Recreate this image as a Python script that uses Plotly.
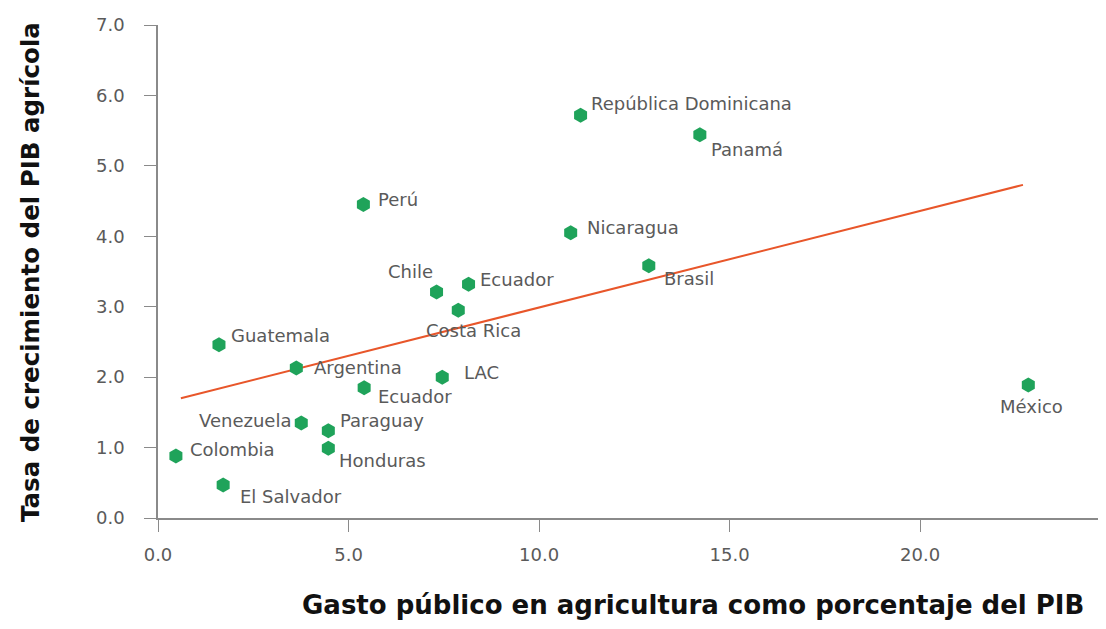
import plotly.graph_objects as go

# ---- data ----
countries = ["República Dominicana", "Panamá", "Perú", "Nicaragua", "Brasil", "Chile",
             "Ecuador", "Costa Rica", "Guatemala", "Argentina", "Ecuador", "LAC",
             "Venezuela", "Paraguay", "Honduras", "Colombia", "El Salvador", "México"]
gasto = [11.09, 14.22, 5.39, 10.83, 12.88, 7.31,
         8.15, 7.88, 1.60, 3.63, 5.41, 7.46,
         3.76, 4.47, 4.47, 0.47, 1.71, 22.84]
crecimiento = [5.72, 5.44, 4.45, 4.05, 3.58, 3.21,
               3.32, 2.95, 2.46, 2.13, 1.85, 2.00,
               1.35, 1.24, 0.99, 0.88, 0.47, 1.89]
trend_x = [0.60, 22.70]
trend_y = [1.70, 4.73]
x_ticks = [0, 5, 10, 15, 20]
x_tick_labels = ["0.0", "5.0", "10.0", "15.0", "20.0"]
y_ticks = [0, 1, 2, 3, 4, 5, 6, 7]
y_tick_labels = ["0.0", "1.0", "2.0", "3.0", "4.0", "5.0", "6.0", "7.0"]
x_title = "Gasto público en agricultura como porcentaje del PIB"
y_title = "Tasa de crecimiento del PIB agrícola"

# ---- style ----
FONT = "DejaVu Sans"
GREEN = "#1fa35a"
ORANGE = "#e8562a"
AXIS = "#8a8a8a"
LABEL = "#5a5a5a"

# label placement (xanchor, yanchor, xshift, yshift) per point index
label_style = [
    ("left", "middle", 8, 12), ("left", "middle", 9, -15), ("left", "middle", 13, 5),
    ("left", "middle", 14, 5), ("left", "middle", 13, -13), ("right", "middle", -2, 20),
    ("left", "middle", 9, 5), ("center", "middle", 15, -20), ("left", "middle", 10, 9),
    ("left", "middle", 16, 0), ("left", "middle", 12, -9), ("left", "middle", 20, 5),
    ("right", "middle", -8, 2), ("left", "middle", 10, 10), ("left", "middle", 9, -12),
    ("left", "middle", 12, 7), ("left", "middle", 15, -12), ("center", "middle", 3, -22),
]

# figure geometry (page body has an 8px margin)
W, H = 1098, 621
L, R, T, B = 150, 3, 17, 111
pw, ph = W - L - R, H - T - B

fig = go.Figure()
fig.add_trace(go.Scatter(x=trend_x, y=trend_y, mode="lines",
                         line=dict(color=ORANGE, width=2), hoverinfo="skip"))
fig.add_trace(go.Scatter(x=gasto, y=crecimiento, mode="markers",
                         marker=dict(symbol="hexagon", size=15, color=GREEN,
                                     line=dict(width=0)),
                         cliponaxis=False))

annotations = []
for name, xv, yv, (xa, ya, dx, dy) in zip(countries, gasto, crecimiento, label_style):
    annotations.append(dict(x=xv, y=yv, xref="x", yref="y", text=name, showarrow=False,
                            xanchor=xa, yanchor=ya, xshift=dx, yshift=dy,
                            font=dict(family=FONT, size=18, color=LABEL)))
annotations.append(dict(x=(685 - L) / pw, y=(H - B - 597) / ph, xref="paper", yref="paper",
                        text="<b>" + x_title + "</b>",
                        showarrow=False, xanchor="center", yanchor="middle",
                        font=dict(family=FONT, size=26, color="#111")))
annotations.append(dict(x=(22 - L) / pw, y=(H - B - 264) / ph, xref="paper", yref="paper",
                        text="<b>" + y_title + "</b>",
                        showarrow=False, xanchor="center", yanchor="middle", textangle=-90,
                        font=dict(family=FONT, size=24.5, color="#111")))

fig.update_layout(
    width=W, height=H,
    margin=dict(l=L, r=R, t=T, b=B),
    plot_bgcolor="white", paper_bgcolor="white",
    showlegend=False,
    annotations=annotations,
    xaxis=dict(range=[0, 24.8], tickvals=x_ticks, ticktext=x_tick_labels,
               showgrid=False, zeroline=False, showline=True, linecolor=AXIS, linewidth=1.5,
               ticks="outside", ticklen=12, tickcolor=AXIS, tickwidth=1.2,
               ticklabelstandoff=8,
               tickfont=dict(family=FONT, size=18, color=LABEL)),
    yaxis=dict(range=[0, 7.0], tickvals=y_ticks, ticktext=y_tick_labels,
               showgrid=False, zeroline=False, showline=True, linecolor=AXIS, linewidth=1.5,
               ticks="outside", ticklen=12, tickcolor=AXIS, tickwidth=1.2,
               ticklabelstandoff=16,
               tickfont=dict(family=FONT, size=18, color=LABEL)),
)

fig.write_html("out.html")
